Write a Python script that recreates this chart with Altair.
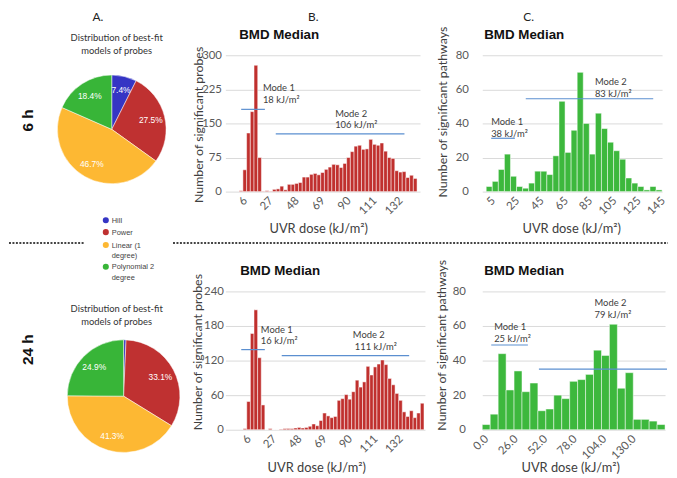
import altair as alt
import pandas as pd

# ---------------- data ----------------
models = ["Hill", "Power", "Linear (1 degree)", "Polynomial 2 degree"]
legend_text = ["Hill", "Power", "Linear (1\ndegree)", "Polynomial 2\ndegree"]
model_colors = ["#3535C4", "#BF3131", "#FDB833", "#38B538"]
pct_6h = [7.4, 27.5, 46.7, 18.4]
pct_24h = [0.7, 33.1, 41.3, 24.9]

# probes, 6 h (bins of 3 kJ/m2, centred at 6, 9, ...)
probe6_centers = list(range(6, 150, 3))
probe6_counts = [2, 48, 129, 176, 278, 75, 1, 2, 1, 5, 6, 12, 4, 16, 16, 18, 20, 32, 32, 38, 40,
                 37, 42, 49, 54, 60, 59, 53, 62, 75, 88, 100, 102, 93, 94, 115, 104, 102, 107,
                 89, 75, 73, 46, 43, 44, 31, 36, 29]
# probes, 24 h
probe24_centers = list(range(6, 156, 3))
probe24_counts = [2, 49, 167, 208, 125, 43, 0, 2, 0, 0, 1, 2, 2, 2, 3, 4, 3, 4, 6, 10, 7, 16, 29,
                  24, 21, 23, 51, 54, 61, 53, 66, 86, 74, 83, 110, 95, 109, 114, 121, 113, 89,
                  78, 63, 51, 31, 23, 33, 21, 29, 46]
# pathways, 6 h (bins of 5, centred at 5, 10, ...)
path6_centers = list(range(5, 150, 5))
path6_counts = [3, 6, 13, 22, 9, 3, 2, 5, 12, 12, 10, 21, 53, 23, 36, 70, 40, 22, 46, 37, 29,
                24, 19, 8, 5, 3, 1, 3, 1]
# pathways, 24 h (bins of 7 starting at 0)
path24_starts = list(range(0, 161, 7))
path24_counts = [3, 9, 44, 23, 34, 22, 27, 11, 12, 20, 18, 28, 29, 32, 46, 43, 61, 24, 33, 6,
                 6, 5, 3]

probe_xticks = [6, 27, 48, 69, 90, 111, 132]
path6_xticks = [5, 25, 45, 65, 85, 105, 125, 145]
path24_xticks = [0, 26, 52, 78, 104, 130]
probe6_yticks = [0, 75, 150, 225, 300]
probe24_yticks = [0, 60, 120, 180, 240]
path_yticks = [0, 20, 40, 60, 80]

# mode annotations: (x1, x2, y) of the line, texts (label, x, y) in data units
probe6_mode_lines = [(6.1, 25.3, 181), (34.1, 138.3, 127)]
probe6_mode_text = [("Mode 1", 23.7, 228), ("18 kJ/m²", 23.7, 202),
                    ("Mode 2", 82.2, 170), ("106 kJ/m²", 82.2, 146)]
path6_mode_lines = [(6.6, 26.1, 31.3), (35.1, 140.2, 54.5)]
path6_mode_text = [("Mode 1", 6.6, 40.6), ("38 kJ/m²", 6.6, 33.6),
                   ("Mode 2", 92.1, 64.3), ("83 kJ/m²", 92.1, 57.4)]
probe24_mode_lines = [(2.9, 22.5, 139), (36.5, 142.2, 128.6)]
probe24_mode_text = [("Mode 1", 19.2, 173), ("16 kJ/m²", 19.2, 154),
                     ("Mode 2", 95.5, 165), ("111 kJ/m²", 97.1, 144)]
path24_mode_lines = [(7.9, 40.2, 49), (49.9, 162.7, 35.1)]
path24_mode_text = [("Mode 1", 10.5, 59.3), ("25 kJ/m²", 10.5, 52.4),
                    ("Mode 2", 98.9, 73.1), ("79 kJ/m²", 98.9, 66.2)]

# ---------------- styles ----------------
LATO = "Lato"
ARIAL = "Liberation Sans"
TXT = "#404040"
TICK = "#595959"
RED = "#C0302E"
GREEN = "#3DB83D"
MODE_BLUE = "#5B8FD0"


def dummy():
    return pd.DataFrame({"k": [0]})


def ptext(text, x, y, size, font=LATO, weight="normal", color=TXT, align="left",
          baseline="alphabetic", angle=None, line_height=None):
    kw = dict(text=text, font=font, fontSize=size, fontWeight=weight, color=color,
              align=align, baseline=baseline)
    if angle is not None:
        kw["angle"] = angle
    if line_height is not None:
        kw["lineBreak"] = "\n"
        kw["lineHeight"] = line_height
    return alt.Chart(dummy()).mark_text(**kw).encode(x=alt.value(x), y=alt.value(y))


def dotted(x1, x2, y):
    return alt.Chart(dummy()).mark_rule(color="#444444", strokeWidth=2, strokeDash=[2, 1.5]).encode(
        x=alt.value(x1), x2=alt.value(x2), y=alt.value(y))


def hist_panel(lo, hi, counts, xdomain, xticks, xfmt, ydomain, yticks, color, width, height,
               ytitle, ytitle_xy, xtitle_xy, ylabel_pad, mode_lines, mode_text, title_x,
               title_y, extra=()):
    df = pd.DataFrame({"lo": lo, "hi": hi, "n": counts, "base": [0] * len(counts)})
    xs = alt.Scale(domain=xdomain, nice=False, zero=False)
    ys = alt.Scale(domain=ydomain, nice=False)
    xaxis = alt.Axis(
        values=xticks, format=xfmt, labelAngle=-45, labelAlign="right", labelBaseline="top",
        grid=False, domain=False, ticks=False, labelPadding=3, labelFlush=False,
        labelOverlap=False, labelFont=LATO, labelFontSize=11.5, labelColor=TICK,
        title="UVR dose (kJ/m²)", titleFont=LATO, titleFontSize=13, titleFontWeight="normal",
        titleColor=TXT, titleX=xtitle_xy[0], titleY=xtitle_xy[1], titleAlign="center",
        titleBaseline="middle")
    yaxis = alt.Axis(
        values=yticks, grid=True, gridColor="#d9d9d9", gridWidth=1, domain=False,
        ticks=False, labelPadding=ylabel_pad, labelOverlap=False, labelFont=LATO,
        labelFontSize=11.5, labelColor=TICK, title=ytitle, titleFont=LATO,
        titleFontSize=12.5, titleFontWeight="normal", titleColor=TXT, titleAngle=270,
        titleX=ytitle_xy[0], titleY=ytitle_xy[1], titleAlign="center",
        titleBaseline="middle")
    bars = alt.Chart(df).mark_bar(color=color, stroke="white", strokeWidth=0.5).encode(
        x=alt.X("lo:Q", scale=xs, axis=xaxis),
        x2="hi:Q",
        y=alt.Y("n:Q", scale=ys, axis=yaxis),
        y2="base:Q",
    )
    ldf = pd.DataFrame(mode_lines, columns=["x1", "x2", "y"])
    lines = alt.Chart(ldf).mark_rule(color=MODE_BLUE, strokeWidth=1.2).encode(
        x=alt.X("x1:Q", scale=xs, axis=xaxis), x2="x2:Q", y=alt.Y("y:Q", scale=ys, axis=yaxis))
    tdf = pd.DataFrame(mode_text, columns=["t", "x", "y"])
    texts = alt.Chart(tdf).mark_text(align="left", baseline="middle", font=LATO, fontSize=9.5,
                                     color=TXT).encode(
        x=alt.X("x:Q", scale=xs, axis=xaxis), y=alt.Y("y:Q", scale=ys, axis=yaxis), text="t:N")
    title = ptext("BMD Median", title_x, title_y, 13.5, font=ARIAL, weight="bold",
                  color="#111111")
    return alt.layer(bars, lines, texts, title, *extra).properties(width=width, height=height)


def pie_panel(pcts, cx, cy, r, title_x, title_y, extra=()):
    df = pd.DataFrame({"model": models, "pct": pcts, "idx": list(range(len(models))),
                       "lab": [f"{p:.1f}%" if p >= 5 else "" for p in pcts]})
    theta = alt.Theta("pct:Q", stack=True)
    arc = alt.Chart(df).mark_arc(outerRadius=r, stroke="white", strokeWidth=0.5).encode(
        theta=theta,
        color=alt.Color("model:N", scale=alt.Scale(domain=models, range=model_colors),
                        legend=None),
        order=alt.Order("idx:Q"), x=alt.value(cx), y=alt.value(cy))
    lab = alt.Chart(df).mark_text(radius=r * 0.74, color="white", font=ARIAL,
                                  fontSize=8.5).encode(
        theta=theta, order=alt.Order("idx:Q"), text="lab:N", x=alt.value(cx), y=alt.value(cy))
    ttl = ptext("Distribution of best-fit\nmodels of probes", title_x, title_y, 9.5,
                color="#333333", align="center", line_height=13)
    return alt.layer(arc, lab, ttl, *extra).properties(width=130, height=138)


# ---------------- legend (drawn in the 6 h pie panel) ----------------
legend_layers = []
for name, txt, col, ly in zip(models, legend_text, model_colors, [167, 179, 192, 214]):
    legend_layers.append(alt.Chart(dummy()).mark_point(filled=True, shape="circle", size=38,
                                                       color=col, opacity=1).encode(
        x=alt.value(67), y=alt.value(ly)))
    legend_layers.append(ptext(txt, 73, ly + 2.6, 7.5, font=ARIAL, color="#444444",
                               line_height=10.5))

A1 = pie_panel(pct_6h, 73, 75, 55, 78, -14.5, extra=[
    ptext("A.", 59, -35, 12, align="center", color="#222222"),
    ptext("6 h", -12, 66, 15.5, font=ARIAL, weight="bold", color="#111111", align="center",
          baseline="middle", angle=270),
    dotted(-31, 45, 190),
    *legend_layers,
])
A2 = pie_panel(pct_24h, 85, 106, 57, 78, 20.5, extra=[
    ptext("24 h", -12, 59, 15.5, font=ARIAL, weight="bold", color="#111111", align="center",
          baseline="middle", angle=270),
])

B1 = hist_panel([c - 1.5 for c in probe6_centers], [c + 1.5 for c in probe6_centers],
                probe6_counts, [-6.7, 150.9], probe_xticks, "d", [0, 300], probe6_yticks, RED,
                197, 138, "Number of significant probes", (-27, 70), (94, 37), 4,
                probe6_mode_lines, probe6_mode_text, 14, -16,
                extra=[ptext("B.", 89, -35, 12, align="center", color="#222222"),
                       dotted(-53, 448, 190)])
C1 = hist_panel([c - 2.5 for c in path6_centers], [c + 2.5 for c in path6_centers],
                path6_counts, [-0.76, 147.5], path6_xticks, "d", [0, 80], path_yticks, GREEN,
                182, 138, "Number of significant pathways", (-40, 57), (90, 37), 14,
                path6_mode_lines, path6_mode_text, 2, -16,
                extra=[ptext("C.", 47, -35, 12, align="center", color="#222222")])
B2 = hist_panel([c - 1.5 for c in probe24_centers], [c + 1.5 for c in probe24_centers],
                probe24_counts, [-10.25, 155.3], probe_xticks, "d", [0, 240], probe24_yticks,
                RED, 202, 140, "Number of significant probes", (-28, 61), (92, 38), 2,
                probe24_mode_lines, probe24_mode_text, 15, -17)
C2 = hist_panel(path24_starts, [s + 7 for s in path24_starts], path24_counts, [0, 161],
                path24_xticks, ".1f", [0, 80], path_yticks, GREEN, 185, 140,
                "Number of significant pathways", (-41, 54), (89, 38), 17,
                path24_mode_lines, path24_mode_text, 2, -17)

chart = alt.concat(A1, B1, C1, A2, B2, C2, columns=3,
                   spacing={"row": 101, "column": 58}, bounds="flush", align="each"
                   ).properties(padding=0, background="white").configure_view(stroke=None)

chart.save("out.html", embed_options={"renderer": "svg", "actions": False})
